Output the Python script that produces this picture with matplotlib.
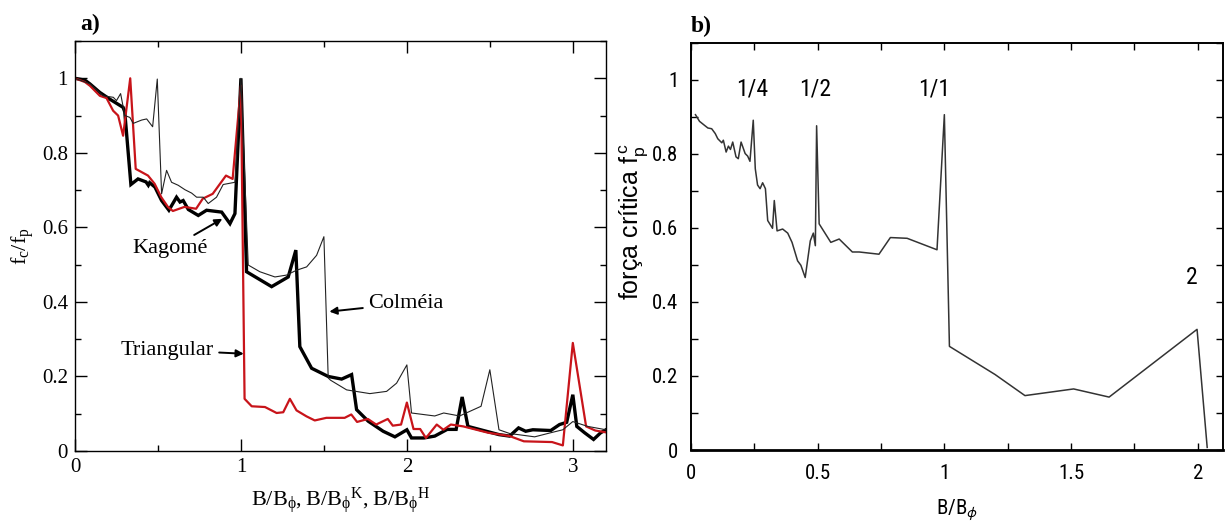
import matplotlib

matplotlib.use("Agg")
import matplotlib.pyplot as plt
from matplotlib import font_manager
from matplotlib.ticker import FormatStrFormatter, MultipleLocator

# panel a: f_c/f_p against B/B_phi for the three lattices
tri_x = [0, 0.06, 0.09, 0.15, 0.19, 0.23, 0.26, 0.29, 0.333, 0.366,
         0.44, 0.48, 0.52, 0.56, 0.59, 0.66, 0.73, 0.77, 0.83, 0.91,
         0.95, 1.0, 1.022, 1.065, 1.145, 1.215, 1.255, 1.295, 1.335, 1.395,
         1.445, 1.515, 1.625, 1.665, 1.70, 1.765, 1.815, 1.885, 1.915, 1.965,
         2.0, 2.04, 2.08, 2.115, 2.18, 2.22, 2.265, 2.34, 2.49, 2.62,
         2.705, 2.875, 2.94, 3.0, 3.08, 3.135, 3.2]
tri_y = [1.0, 0.99, 0.98, 0.953, 0.947, 0.913, 0.90, 0.846, 1.0, 0.757,
         0.739, 0.717, 0.681, 0.655, 0.644, 0.655, 0.65, 0.677, 0.69, 0.739,
         0.73, 0.98, 0.14, 0.12, 0.118, 0.102, 0.104, 0.14, 0.109, 0.093,
         0.082, 0.089, 0.089, 0.098, 0.078, 0.086, 0.071, 0.086, 0.068, 0.071,
         0.13, 0.059, 0.059, 0.035, 0.071, 0.057, 0.071, 0.066, 0.049, 0.04,
         0.026, 0.024, 0.015, 0.29, 0.066, 0.055, 0.05]

kag_x = [0, 0.06, 0.09, 0.15, 0.21, 0.29, 0.30, 0.337, 0.38, 0.428,
         0.442, 0.45, 0.482, 0.522, 0.566, 0.612, 0.633, 0.652, 0.683, 0.743,
         0.793, 0.884, 0.934, 0.964, 1.0, 1.034, 1.185, 1.285, 1.331, 1.355,
         1.426, 1.526, 1.607, 1.667, 1.697, 1.767, 1.857, 1.928, 2.0, 2.028,
         2.103, 2.168, 2.243, 2.297, 2.333, 2.368, 2.555, 2.619, 2.673, 2.716,
         2.759, 2.867, 2.92, 2.963, 3.0, 3.024, 3.071, 3.125, 3.168, 3.2]
kag_y = [1.0, 0.995, 0.985, 0.962, 0.944, 0.922, 0.91, 0.715, 0.730, 0.722,
         0.713, 0.72, 0.708, 0.672, 0.646, 0.681, 0.668, 0.672, 0.648, 0.632,
         0.646, 0.641, 0.610, 0.637, 1.0, 0.481, 0.441, 0.467, 0.539, 0.280,
         0.222, 0.20, 0.193, 0.205, 0.111, 0.080, 0.053, 0.038, 0.057, 0.035,
         0.035, 0.04, 0.058, 0.058, 0.145, 0.066, 0.044, 0.04, 0.062, 0.053,
         0.057, 0.055, 0.071, 0.077, 0.151, 0.066, 0.049, 0.031, 0.049, 0.057]

col_x = [0, 0.09, 0.17, 0.231, 0.25, 0.275, 0.291, 0.301, 0.331, 0.351,
         0.402, 0.432, 0.468, 0.496, 0.522, 0.552, 0.582, 0.622, 0.663, 0.703,
         0.733, 0.773, 0.803, 0.853, 0.893, 0.964, 1.0, 1.044, 1.114, 1.205,
         1.275, 1.335, 1.396, 1.456, 1.5, 1.526, 1.54, 1.637, 1.777, 1.878,
         1.938, 2.0, 2.028, 2.168, 2.222, 2.318, 2.447, 2.5, 2.555, 2.619,
         2.77, 2.867, 2.94, 3.0, 3.09, 3.2]
col_y = [1.0, 0.985, 0.953, 0.949, 0.94, 0.959, 0.922, 0.90, 0.895, 0.879,
         0.888, 0.891, 0.870, 0.998, 0.690, 0.753, 0.721, 0.713, 0.701, 0.692,
         0.681, 0.681, 0.664, 0.681, 0.715, 0.721, 1.0, 0.499, 0.481, 0.467,
         0.472, 0.485, 0.494, 0.525, 0.575, 0.196, 0.19, 0.164, 0.154, 0.16,
         0.182, 0.231, 0.102, 0.094, 0.102, 0.094, 0.12, 0.218, 0.057, 0.047,
         0.038, 0.049, 0.057, 0.079, 0.066, 0.057]

# panel b: critical force against B/B_phi
b_x = [0.018, 0.034, 0.054, 0.067, 0.082, 0.096, 0.106, 0.122, 0.128, 0.139,
       0.148, 0.156, 0.165, 0.178, 0.187, 0.198, 0.214, 0.224, 0.233, 0.246,
       0.254, 0.263, 0.273, 0.283, 0.294, 0.303, 0.322, 0.329, 0.340, 0.362,
       0.382, 0.399, 0.421, 0.434, 0.451, 0.471, 0.483, 0.491, 0.496, 0.506,
       0.552, 0.585, 0.637, 0.664, 0.742, 0.787, 0.853, 0.971, 1.0, 1.02,
       1.2, 1.318, 1.51, 1.65, 1.997, 2.037]
b_y = [0.906, 0.888, 0.877, 0.870, 0.868, 0.855, 0.841, 0.830, 0.837, 0.805,
       0.821, 0.812, 0.832, 0.792, 0.787, 0.832, 0.801, 0.794, 0.780, 0.891,
       0.760, 0.716, 0.706, 0.722, 0.706, 0.620, 0.599, 0.674, 0.592, 0.597,
       0.586, 0.561, 0.511, 0.499, 0.466, 0.565, 0.586, 0.552, 0.876, 0.611,
       0.561, 0.570, 0.535, 0.535, 0.529, 0.574, 0.572, 0.541, 0.906, 0.280,
       0.204, 0.147, 0.165, 0.143, 0.326, 0.007]
b_labels = ["1/4", "1/2", "1/1", "2"]
b_label_x = [0.24, 0.49, 0.96, 1.975]
b_label_y = [0.975, 0.975, 0.975, 0.466]

_installed = {f.name for f in font_manager.fontManager.ttflist}
SERIF = "Liberation Serif"
# panel b uses a condensed sans; take the first one that is installed
NARROW = next(
    (name for name in ("Liberation Sans Narrow", "DejaVu Sans Condensed",
                       "Roboto Condensed", "Open Sans Condensed")
     if name in _installed),
    "Liberation Sans",
)
RED = "#c8141a"

fig = plt.figure(figsize=(12.25, 5.24), dpi=100)

# ---- panel a
ax = fig.add_axes([0.0612, 0.1393, 0.4335, 0.7824])
ax.plot(kag_x, kag_y, color="black", lw=2.4, solid_joinstyle="miter")
ax.plot(tri_x, tri_y, color=RED, lw=1.6)
ax.plot(col_x, col_y, color="#222222", lw=0.8)
ax.set_xlim(0, 3.2)
ax.set_ylim(0, 1.1)
ax.xaxis.set_major_locator(MultipleLocator(1))
ax.xaxis.set_minor_locator(MultipleLocator(0.5))
ax.yaxis.set_major_locator(MultipleLocator(0.2))
ax.yaxis.set_minor_locator(MultipleLocator(0.1))
ax.xaxis.set_major_formatter(FormatStrFormatter("%g"))
ax.yaxis.set_major_formatter(FormatStrFormatter("%g"))
ax.tick_params(which="both", direction="in", top=True, right=True, width=1.0)
ax.tick_params(which="major", length=8.5, pad=5, labelsize=15)
ax.tick_params(which="minor", length=4.5)
for lab in ax.get_xticklabels() + ax.get_yticklabels():
    lab.set_fontfamily(SERIF)
for s in ax.spines.values():
    s.set_linewidth(1.0)
ax.set_xlabel(r"$\mathregular{B/B_{\phi}, B/B_{\phi}{}^{K}, B/B_{\phi}{}^{H}}$",
              fontfamily=SERIF, fontsize=16, labelpad=6)
ax.set_ylabel(r"$\mathregular{f_c/f_p}$", fontfamily=SERIF, fontsize=16, labelpad=4)
ax.text(0.01, 1.015, "a)", transform=ax.transAxes, fontfamily=SERIF,
        fontsize=17, fontweight="bold", va="bottom")

arrow = dict(arrowstyle="-|>", color="black", lw=1.4, mutation_scale=11,
             shrinkA=2, shrinkB=0)
ax.annotate("Kagomé", xy=(0.888, 0.623), xytext=(0.575, 0.543), ha="center",
            va="center", fontfamily=SERIF, fontsize=16, arrowprops=arrow)
ax.annotate("Colméia", xy=(1.533, 0.374), xytext=(1.995, 0.396), ha="center",
            va="center", fontfamily=SERIF, fontsize=16, arrowprops=arrow)
ax.annotate("Triangular", xy=(1.017, 0.261), xytext=(0.555, 0.271), ha="center",
            va="center", fontfamily=SERIF, fontsize=16, arrowprops=arrow)

# ---- panel b
bx = fig.add_axes([0.564, 0.1412, 0.4345, 0.777])
bx.plot(b_x, b_y, color="#333333", lw=1.1)
bx.set_xlim(0, 2.1)
bx.set_ylim(0, 1.1)
bx.xaxis.set_major_locator(MultipleLocator(0.5))
bx.xaxis.set_minor_locator(MultipleLocator(0.25))
bx.yaxis.set_major_locator(MultipleLocator(0.2))
bx.yaxis.set_minor_locator(MultipleLocator(0.1))
bx.xaxis.set_major_formatter(FormatStrFormatter("%g"))
bx.yaxis.set_major_formatter(FormatStrFormatter("%g"))
bx.tick_params(which="both", direction="in", top=True, right=True, width=1.0,
               length=5)
bx.tick_params(which="major", labelsize=15)
bx.tick_params(axis="x", pad=10)
bx.tick_params(axis="y", pad=9)
for lab in bx.get_xticklabels() + bx.get_yticklabels():
    lab.set_fontfamily(NARROW)
for side, s in bx.spines.items():
    s.set_linewidth(2.0 if side == "bottom" else 1.4)
bx.set_xlabel(r"$\mathregular{B/B_{\phi}}$", fontfamily=NARROW, fontsize=15,
              labelpad=11)
bx.set_ylabel(r"força crítica $\mathregular{f_p^{\,c}}$", fontfamily="Liberation Sans",
              fontsize=18)
bx.yaxis.set_label_coords(-0.075, 0.56)
bx.text(0.0, 1.015, "b)", transform=bx.transAxes, fontfamily=SERIF,
        fontsize=17, fontweight="bold", va="bottom")
for lab, x, y in zip(b_labels, b_label_x, b_label_y):
    bx.text(x, y, lab, ha="center", va="center", fontfamily=NARROW, fontsize=17)

fig.savefig("out.png", dpi=100)
